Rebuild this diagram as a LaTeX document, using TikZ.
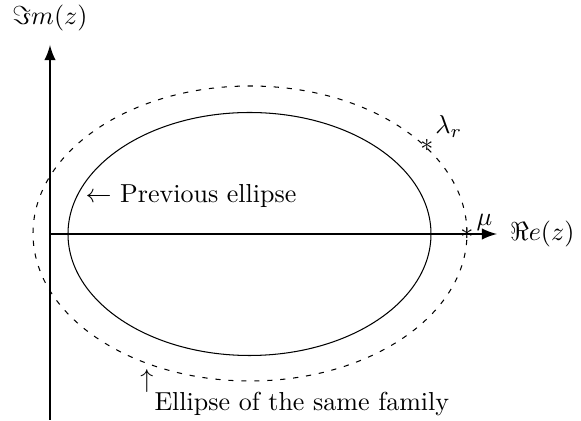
\documentclass[tikz,border=0pt]{standalone}
\usetikzlibrary{positioning}
\begin{document}
\begin{tikzpicture}[x = .3846pt, y = .3846pt,
    axis/.style = {line width = 1pt, -latex},
    family/.style = {dash pattern = on 2pt off 3pt},
    marker/.style = {inner sep = 0pt}]
  \useasboundingbox (-50,-187) rectangle (531,234);
  % axes
  \coordinate (O) at (0,0);
  \coordinate (xend) at (447,0);
  \coordinate (ybot) at (0,-186);
  \coordinate (yend) at (0,189);
  \draw [axis] (O) -- (xend);
  \draw [axis] (ybot) -- (yend);
  \node (re) [right = 1.5pt of xend] {$\Re e(z)$};
  \node (im) at (0,216) {$\Im m(z)$};
  % ellipses
  \draw (199.5,0) ellipse [x radius = 181.5, y radius = 121.5];
  \draw [family] (200,0.5) ellipse [x radius = 217, y radius = 147.5];
  % points
  \node (lam) [marker] at (377,89) {$\ast$};
  \node (mu) [marker] at (417,1) {$\ast$};
  \node [above right = -3pt and -3pt of lam] {$\lambda_r$};
  \node [above right = -5pt and -2.5pt of mu] {$\mu$};
  % labels
  \node (prev) [anchor = west, inner sep = 0pt] at (35,38) {$\leftarrow$ Previous ellipse};
  \node (up) [anchor = south, inner sep = 0pt] at (97,-159) {$\uparrow$};
  \node (fam) [anchor = north west, inner sep = 0pt] at (104,-158) {Ellipse of the same family};
\end{tikzpicture}
\end{document}
